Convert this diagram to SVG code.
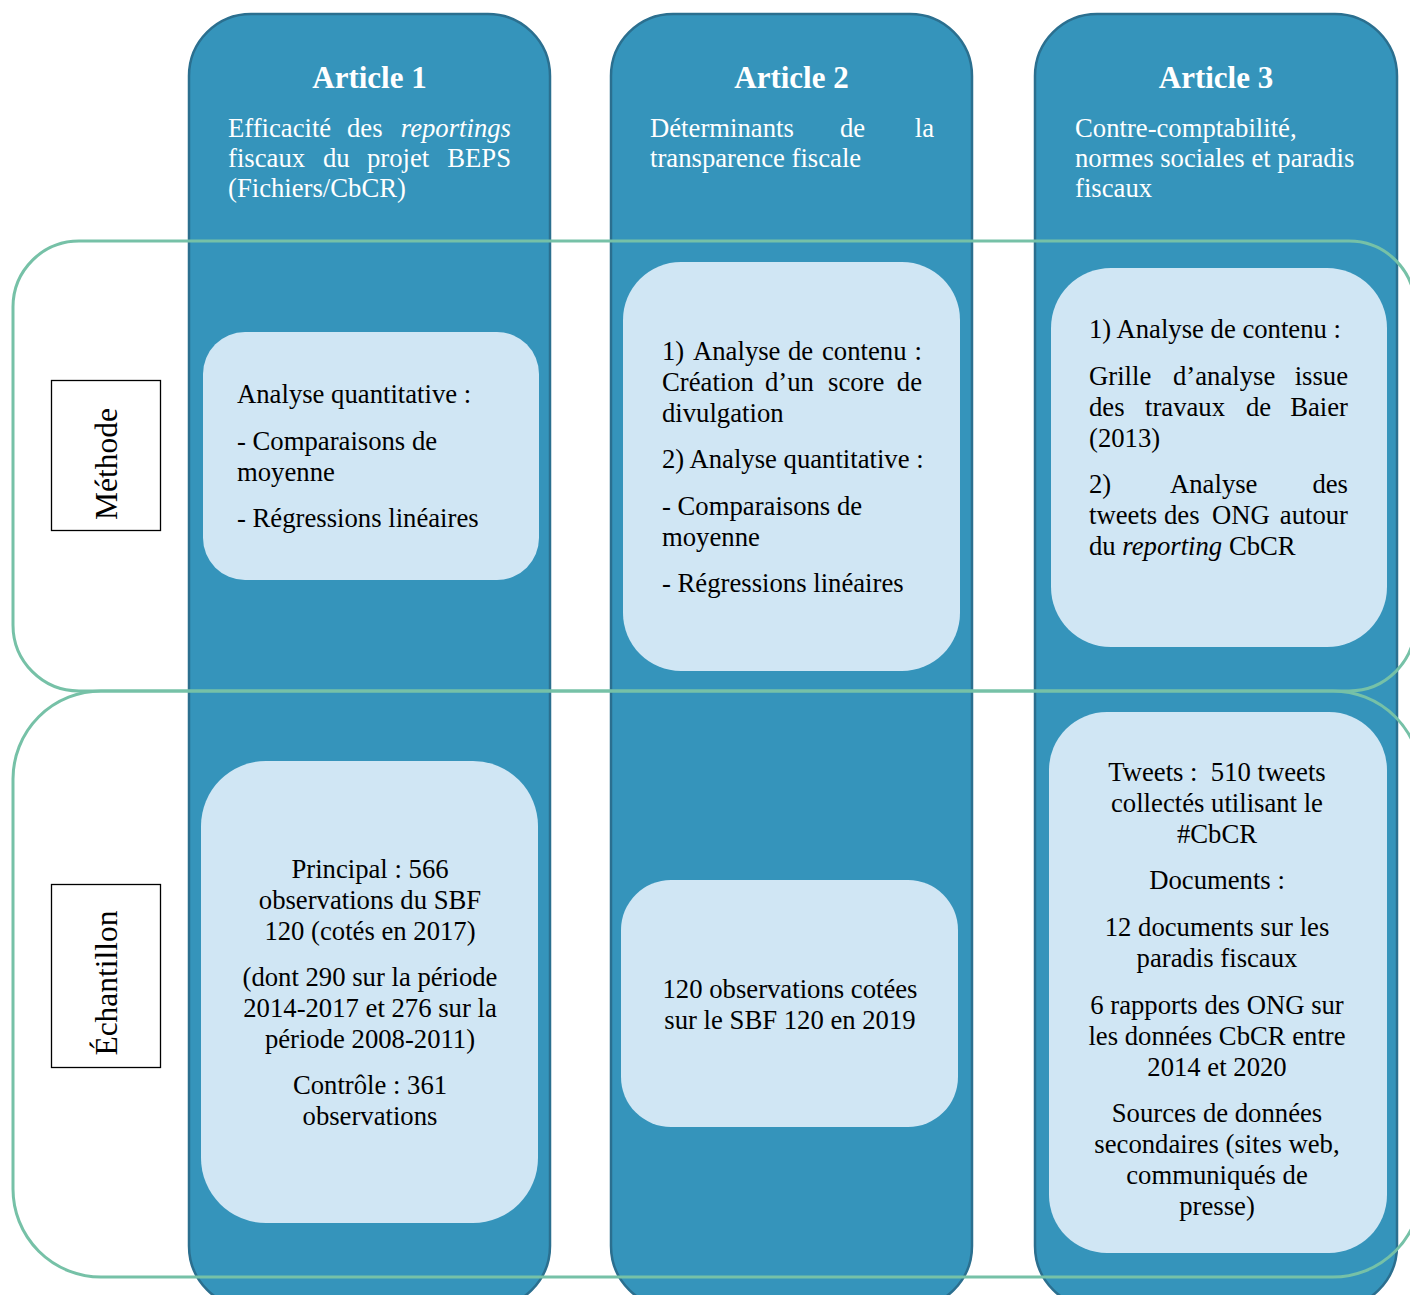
<svg xmlns="http://www.w3.org/2000/svg" width="1410" height="1295" viewBox="0 0 1410 1295">
<style>
.col{fill:#3594BB;stroke:#2B6F8F;stroke-width:2.5}
.frame{fill:none;stroke:#76C1A7;stroke-width:3}
.inner{fill:#D0E6F4}
.lbl{fill:#fff;stroke:#000;stroke-width:1.3}
text{font-family:"Liberation Serif","Times New Roman",serif}
.title{font-size:31px;font-weight:bold;fill:#fff;text-anchor:middle}
.hd{font-size:26.7px;fill:#fff}
.bd{font-size:26.7px;fill:#000}
.c{text-anchor:middle}
.e{text-anchor:end}
.lt{font-size:31.5px;fill:#000;text-anchor:middle}
.it{font-style:italic}
</style>
<rect width="1410" height="1295" fill="#fff"/>
<g id="article1">
<rect class="col" x="189" y="14" width="361" height="1294" rx="62"/>
<text class="title" x="369.5" y="88">Article 1</text>
<text class="hd" y="137"><tspan x="228">Efficacité</tspan><tspan x="347">des</tspan></text>
<text class="hd it e" x="511" y="137">reportings</text>
<text class="hd" y="167"><tspan x="228">fiscaux</tspan><tspan x="323">du</tspan><tspan x="367">projet</tspan></text>
<text class="hd e" x="511" y="167">BEPS</text>
<text class="hd" x="228" y="197">(Fichiers/CbCR)</text>
</g>
<g id="article2">
<rect class="col" x="611" y="14" width="361" height="1294" rx="62"/>
<text class="title" x="791.5" y="88">Article 2</text>
<text class="hd" y="137"><tspan x="650">Déterminants</tspan><tspan x="840">de</tspan></text>
<text class="hd e" x="934" y="137">la</text>
<text class="hd" x="650" y="167">transparence fiscale</text>
</g>
<g id="article3">
<rect class="col" x="1035" y="14" width="362" height="1294" rx="62"/>
<text class="title" x="1216" y="88">Article 3</text>
<text class="hd" x="1075" y="137">Contre-comptabilité,</text>
<text class="hd" x="1075" y="167">normes sociales et paradis</text>
<text class="hd" x="1075" y="197">fiscaux</text>
</g>
<g id="row-methode">
<rect class="frame" x="13" y="241" width="1402" height="450" rx="66"/>
<rect class="lbl" x="51.5" y="380.5" width="109" height="150"/>
<text class="lt" transform="translate(117,464) rotate(-90)">Méthode</text>
</g>
<g id="row-echantillon">
<rect class="frame" x="13" y="691" width="1408" height="586" rx="88"/>
<rect class="lbl" x="51.5" y="884.5" width="109" height="183"/>
<text class="lt" transform="translate(117,983) rotate(-90)">Échantillon</text>
</g>
<g id="methode-article1">
<rect class="inner" x="203" y="332" width="336" height="248" rx="42"/>
<text class="bd" x="237" y="403">Analyse quantitative :</text>
<text class="bd" x="237" y="450">- Comparaisons de</text>
<text class="bd" x="237" y="481">moyenne</text>
<text class="bd" x="237" y="527">- Régressions linéaires</text>
</g>
<g id="methode-article2">
<rect class="inner" x="623" y="262" width="337" height="409" rx="58"/>
<text class="bd" y="360"><tspan x="662">1)</tspan><tspan x="693">Analyse</tspan><tspan x="788">de</tspan><tspan x="822">contenu</tspan></text>
<text class="bd e" x="922" y="360">:</text>
<text class="bd" y="391"><tspan x="662">Création</tspan><tspan x="765">d’un</tspan><tspan x="828">score</tspan></text>
<text class="bd e" x="922" y="391">de</text>
<text class="bd" x="662" y="422">divulgation</text>
<text class="bd" x="662" y="468">2) Analyse quantitative :</text>
<text class="bd" x="662" y="515">- Comparaisons de</text>
<text class="bd" x="662" y="546">moyenne</text>
<text class="bd" x="662" y="592">- Régressions linéaires</text>
</g>
<g id="methode-article3">
<rect class="inner" x="1051" y="268" width="336" height="379" rx="60"/>
<text class="bd" x="1089" y="338">1) Analyse de contenu :</text>
<text class="bd" y="385"><tspan x="1089">Grille</tspan><tspan x="1173">d’analyse</tspan></text>
<text class="bd e" x="1348" y="385">issue</text>
<text class="bd" y="416"><tspan x="1089">des</tspan><tspan x="1145">travaux</tspan><tspan x="1246">de</tspan></text>
<text class="bd e" x="1348" y="416">Baier</text>
<text class="bd" x="1089" y="447">(2013)</text>
<text class="bd" y="493"><tspan x="1089">2)</tspan><tspan x="1170">Analyse</tspan></text>
<text class="bd e" x="1348" y="493">des</text>
<text class="bd" y="524"><tspan x="1089">tweets</tspan><tspan x="1164">des</tspan><tspan x="1212">ONG</tspan></text>
<text class="bd e" x="1348" y="524">autour</text>
<text class="bd" x="1089" y="555">du <tspan class="it">reporting</tspan> CbCR</text>
</g>
<g id="echantillon-article1">
<rect class="inner" x="201" y="761" width="337" height="462" rx="65"/>
<text class="bd c" x="370" y="878">Principal : 566</text>
<text class="bd c" x="370" y="909">observations du SBF</text>
<text class="bd c" x="370" y="940">120 (cotés en 2017)</text>
<text class="bd c" x="370" y="986">(dont 290 sur la période</text>
<text class="bd c" x="370" y="1017">2014-2017 et 276 sur la</text>
<text class="bd c" x="370" y="1048">période 2008-2011)</text>
<text class="bd c" x="370" y="1094">Contrôle : 361</text>
<text class="bd c" x="370" y="1125">observations</text>
</g>
<g id="echantillon-article2">
<rect class="inner" x="621" y="880" width="337" height="247" rx="50"/>
<text class="bd c" x="790" y="998">120 observations cotées</text>
<text class="bd c" x="790" y="1029">sur le SBF 120 en 2019</text>
</g>
<g id="echantillon-article3">
<rect class="inner" x="1049" y="712" width="338" height="541" rx="58"/>
<text class="bd c" x="1217" y="781" xml:space="preserve">Tweets :  510 tweets</text>
<text class="bd c" x="1217" y="812">collectés utilisant le</text>
<text class="bd c" x="1217" y="843">#CbCR</text>
<text class="bd c" x="1217" y="889">Documents :</text>
<text class="bd c" x="1217" y="936">12 documents sur les</text>
<text class="bd c" x="1217" y="967">paradis fiscaux</text>
<text class="bd c" x="1217" y="1014">6 rapports des ONG sur</text>
<text class="bd c" x="1217" y="1045">les données CbCR entre</text>
<text class="bd c" x="1217" y="1076">2014 et 2020</text>
<text class="bd c" x="1217" y="1122">Sources de données</text>
<text class="bd c" x="1217" y="1153">secondaires (sites web,</text>
<text class="bd c" x="1217" y="1184">communiqués de</text>
<text class="bd c" x="1217" y="1215">presse)</text>
</g>
<g id="connectors"></g>
</svg>
